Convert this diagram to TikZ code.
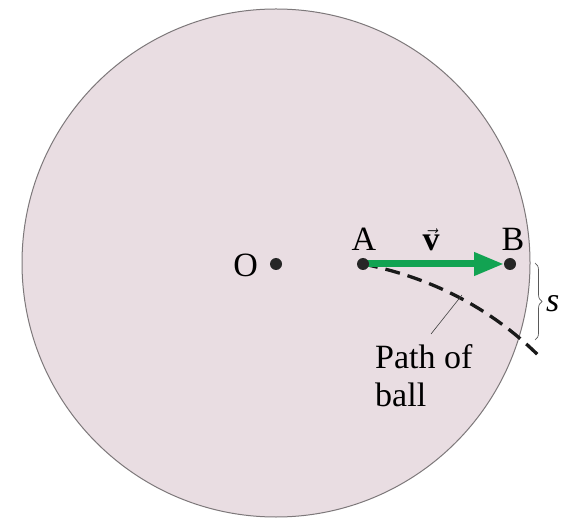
\documentclass[tikz,border=0pt]{standalone}
\usepackage{fontspec}
\setmainfont{Liberation Serif}
\usetikzlibrary{decorations.pathreplacing,arrows.meta}
\definecolor{disk}{RGB}{233,221,226}
\definecolor{diskedge}{RGB}{125,120,122}
\definecolor{vgreen}{RGB}{18,163,82}
\tikzset{
  dot/.style={circle,fill=black!85,inner sep=0pt,minimum size=12pt},
  lbl/.style={inner sep=0pt,font=\fontsize{34}{38}\selectfont},
  pathline/.style={line width=3.3pt,dash pattern=on 15pt off 8pt,black!90},
  leader/.style={line width=0.6pt,black!75},
}
\begin{document}
\begin{tikzpicture}[x=1pt,y=1pt]
\useasboundingbox (0,0) rectangle (567,517);
\fill[white] (0,0) rectangle (567,517);
\draw[fill=disk,draw=diskedge,line width=1pt] (276,254) circle [radius=254];
% points
\coordinate (O) at (276,253);
\coordinate (A) at (363,253);
\coordinate (B) at (510,253);
\coordinate (E) at (540,160);
% path of ball
\draw[pathline] (A) .. controls (433,239) and (492,208) .. (E);
% velocity
\draw[vgreen,line width=7pt,shorten >=6pt,-{Triangle[length=30pt,width=22pt]}] (A) -- (B);
\node[dot] (Od) at (O) {};
\node[dot] (Ad) at (A) {};
\node[dot] (Bd) at (B) {};
% labels
\node[lbl,anchor=east] (Ol) at (258,252) {O};
\node[lbl,anchor=base] (Al) at (364,266) {A};
\node[lbl,anchor=base] (Bl) at (513,266) {B};
\node[lbl,anchor=base] (vl) at (431,266) {$\vec{\mbox{\bfseries v}}$};
% brace
\coordinate (s1) at (535,254);
\coordinate (s2) at (535,177);
\draw[decorate,decoration={brace,amplitude=7pt},line width=0.7pt,black!65] (s1) -- (s2);
\node[lbl,anchor=west] (sl) at (546,213) {\itshape s};
% leader and text
\coordinate (L1) at (462,222);
\coordinate (L2) at (431,183);
\draw[leader] (L1) -- (L2);
\node[lbl,anchor=north west,align=left] (pt) at (375,173) {Path of\\ball};
\end{tikzpicture}
\end{document}
